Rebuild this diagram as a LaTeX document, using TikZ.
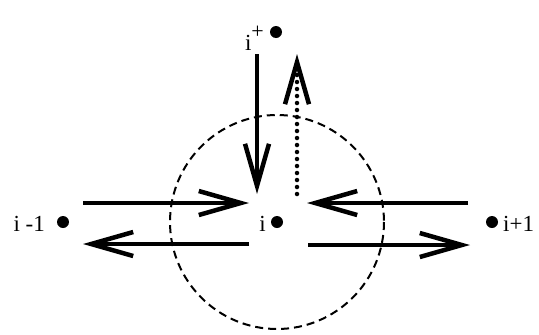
\documentclass[tikz,border=0pt]{standalone}
\usepackage{fontspec}
\setmainfont{Liberation Serif}
\usetikzlibrary{arrows.meta}
\begin{document}
\begin{tikzpicture}[x=1pt,y=-1pt,
  dot/.style={circle,fill=black,inner sep=0pt,minimum size=12pt},
  lab/.style={inner sep=0pt,font=\fontsize{23}{27}\selectfont},
  flow/.style={line width=4.5pt,-{Straight Barb[length=42pt,width=24pt,line width=4.5pt]}},
  ring/.style={line width=2pt,dash pattern=on 8pt off 5pt}]
\useasboundingbox (0,0) rectangle (539,335);
\node[dot] (c) at (277,222) {};
\node[dot] (l) at (63,222) {};
\node[dot] (r) at (492,222) {};
\node[dot] (t) at (276,32) {};
\node[lab,anchor=east] (cl) at (266,224) {i};
\node[lab,anchor=east] (ll) at (45,224) {i -1};
\node[lab,anchor=west] (rl) at (503,224) {i+1};
\node[lab,anchor=east] (tl) at (264,38) {i\raisebox{12pt}{\fontsize{22}{24}\selectfont +}};
\draw[ring] (c) circle[radius=107];
\coordinate (a1) at (83,203); \coordinate (a2) at (249,203);
\coordinate (b1) at (249,244); \coordinate (b2) at (83,244);
\coordinate (d1) at (468,203); \coordinate (d2) at (307,203);
\coordinate (e1) at (308,245); \coordinate (e2) at (470,245);
\coordinate (v1) at (257,54); \coordinate (v2) at (257,194);
\coordinate (w1) at (297,194); \coordinate (w2) at (297,54);
\draw[flow] (a1) -- (a2);
\draw[flow] (b1) -- (b2);
\draw[flow] (d1) -- (d2);
\draw[flow] (e1) -- (e2);
\draw[flow] (v1) -- (v2);
\draw[flow,line cap=round,dash pattern=on 0pt off 7pt] (w1) -- (w2);
\end{tikzpicture}
\end{document}
